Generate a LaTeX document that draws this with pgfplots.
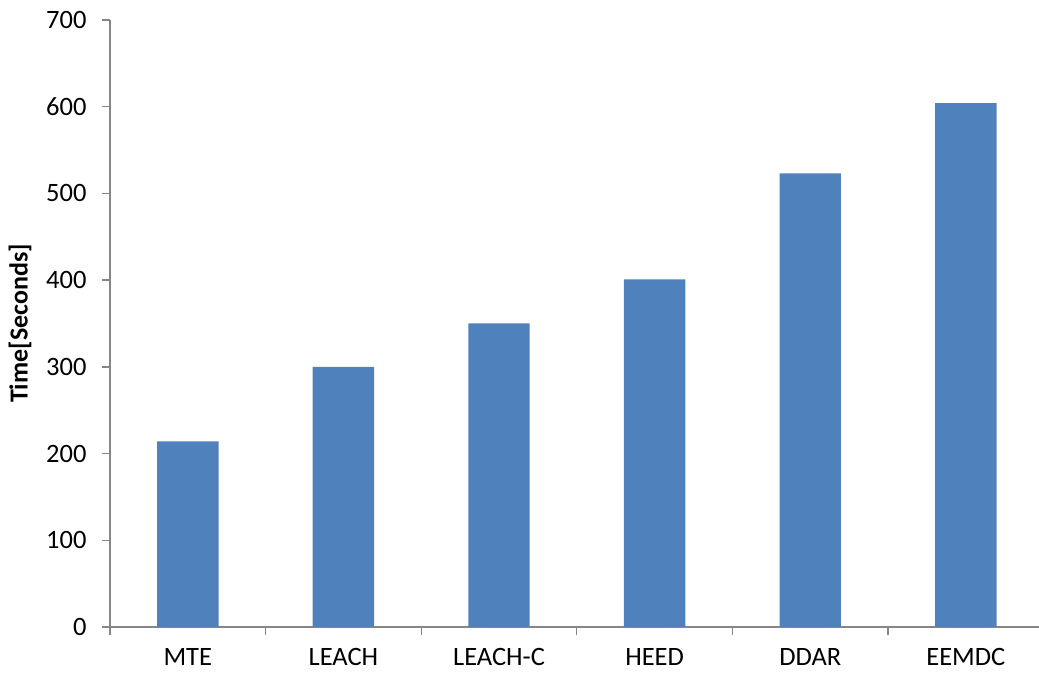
\documentclass[border=0pt]{standalone}
\usepackage{pgfplots}
\pgfplotsset{compat=1.18}
\usepackage{fontspec}
\setmainfont{Carlito}
\definecolor{barblue}{HTML}{4F81BD}
\definecolor{axgray}{HTML}{868686}
\begin{document}
\begin{tikzpicture}
\begin{axis}[
  at={(0pt,0pt)}, anchor=south west,
  scale only axis,
  width=929pt, height=607pt,
  xmin=-0.5, xmax=5.47,
  ymin=0, ymax=700,
  axis lines=left,
  axis line style={-, axgray, line width=1.3pt},
  ytick={0,100,...,700},
  xtick={0,1,2,3,4,5},
  xticklabels={MTE,LEACH,LEACH-C,HEED,DDAR,EEMDC},
  major x tick style={draw=none},
  minor xtick={-0.5,0.5,1.5,2.5,3.5,4.5},
  tick align=outside,
  major tick length=8pt,
  minor tick length=8pt,
  tick style={axgray, line width=1.3pt},
  every tick label/.append style={font=\fontsize{26.5}{30}\selectfont, text=black},
  /pgf/number format/assume math mode=true,
  yticklabel style={xshift=-12pt},
  xticklabel style={yshift=-10pt},
  ylabel={\textbf{Time[Seconds]}},
  ylabel style={font=\fontsize{26}{30}\selectfont, at={(axis description cs:-0.0969,0.5)}, anchor=center, rotate=0},
  clip=false,
]
\addplot[ybar, bar width=61.4pt, fill=barblue, draw=none] coordinates {
 (0,214) (1,300) (2,350) (3,401) (4,523) (5,604)
};
\end{axis}
\pgfresetboundingbox
\useasboundingbox (-110pt,-50pt) rectangle (929pt,627pt);
\end{tikzpicture}
\end{document}
